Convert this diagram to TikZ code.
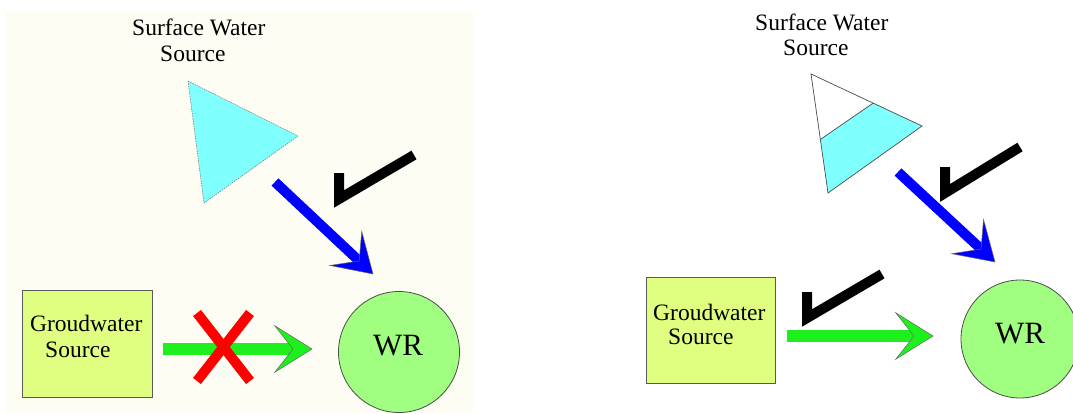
\documentclass[tikz,border=0pt]{standalone}
\usepackage{fontspec}
\setmainfont{Liberation Serif}
\newfontfamily\serifface{Liberation Serif}
\usetikzlibrary{calc}
\definecolor{cream}{RGB}{254,253,244}
\definecolor{watercyan}{RGB}{128,255,255}
\definecolor{flowblue}{RGB}{0,0,255}
\definecolor{flowgreen}{RGB}{30,240,30}
\definecolor{boxlime}{RGB}{224,255,128}
\definecolor{wrgreen}{RGB}{160,255,128}
\definecolor{crossred}{RGB}{255,0,0}
\tikzset{
  lbl/.style={font=\serifface\fontsize{23.5}{26}\selectfont, inner sep=0pt, anchor=base west},
  wrlbl/.style={font=\serifface\fontsize{31}{34}\selectfont, inner sep=0pt, anchor=base},
  gwbox/.style={draw=gray!70!black, line width=0.8pt, fill=boxlime, inner sep=0pt, anchor=north west},
  wrnode/.style={circle, draw=gray!60!black, line width=0.8pt, fill=wrgreen, inner sep=0pt},
  checkmark/.style={line width=10pt, line join=miter, black},
  crossline/.style={line width=10pt, crossred},
  tridash/.style={draw=gray, line width=0.6pt, dash pattern=on 1.5pt off 1pt},
  trisolid/.style={draw=gray!60!black, line width=0.7pt},
  headline/.style={draw=black!60, line width=0.5pt}
}
\newcommand{\flowarrow}[4]{%
  \draw[#1, line width=#2] (#3) -- ($(#4)!17pt!(#3)$);
  \fill[#1, headline] (#4) -- ($(#4)!44pt!32:(#3)$) -- ($(#4)!19pt!(#3)$) -- ($(#4)!44pt!-32:(#3)$) -- cycle;
}
\begin{document}
\begin{tikzpicture}[x=1pt,y=-1pt]
\clip (0,0) rectangle (1073,413);
\fill[white] (0,0) rectangle (1073,413);
\fill[cream] (6,12) rectangle (473,413);

% ---------- left panel ----------
\node[lbl] (swL1) at (132,35) {Surface Water};
\node[lbl] (swL2) at (160,61) {Source};
\coordinate (tL1) at (188,81);
\coordinate (tL2) at (298,136);
\coordinate (tL3) at (204,203);
\fill[watercyan] (tL1) -- (tL2) -- (tL3) -- cycle;
\draw[tridash] (tL1) -- (tL2) -- (tL3) -- cycle;

\node[gwbox, minimum width=130pt, minimum height=107pt] (gwL) at (22,290) {};
\node[lbl] (gwL1) at (30,331) {Groudwater};
\node[lbl] (gwL2) at (45,357) {Source};

\node[wrnode, minimum size=121pt] (wrL) at (399,352) {};
\node[wrlbl] (wrLt) at (398,355) {WR};

\coordinate (bL0) at (275,182);
\coordinate (bL1) at (373,274);
\flowarrow{flowblue}{10pt}{bL0}{bL1}

\coordinate (gL0) at (163,349);
\coordinate (gL1) at (312,349);
\flowarrow{flowgreen}{12pt}{gL0}{gL1}

\coordinate (xL1) at (197,313);
\coordinate (xL2) at (250,381);
\coordinate (xL3) at (250,313);
\coordinate (xL4) at (197,381);
\draw[crossline] (xL1) -- (xL2);
\draw[crossline] (xL3) -- (xL4);

\coordinate (cL1) at (339,173);
\coordinate (cL2) at (339,199);
\coordinate (cL3) at (414,155);
\draw[checkmark] (cL1) -- (cL2) -- (cL3);

% ---------- right panel ----------
\node[lbl] (swR1) at (755,30) {Surface Water};
\node[lbl] (swR2) at (783,55) {Source};
\coordinate (tR1) at (811,74);
\coordinate (tR2) at (922,126);
\coordinate (tR3) at (828,193);
\coordinate (wR1) at ($(tR1)!0.55!(tR3)$);
\coordinate (wR2) at ($(tR1)!0.56!(tR2)$);
\fill[watercyan] (wR1) -- (wR2) -- (tR2) -- (tR3) -- cycle;
\draw[trisolid] (tR1) -- (tR2) -- (tR3) -- cycle;
\draw[trisolid] (wR1) -- (wR2);

\node[gwbox, minimum width=129pt, minimum height=106pt] (gwR) at (646,277) {};
\node[lbl] (gwR1) at (653,320) {Groudwater};
\node[lbl] (gwR2) at (668,344) {Source};

\node[wrnode, minimum size=118pt] (wrR) at (1020,339) {};
\node[wrlbl] (wrRt) at (1020,343) {WR};

\coordinate (bR0) at (898,172);
\coordinate (bR1) at (995,262);
\flowarrow{flowblue}{10pt}{bR0}{bR1}

\coordinate (gR0) at (787,336);
\coordinate (gR1) at (933,336);
\flowarrow{flowgreen}{12pt}{gR0}{gR1}

\coordinate (cR1) at (945,167);
\coordinate (cR2) at (945,193);
\coordinate (cR3) at (1020,147);
\draw[checkmark] (cR1) -- (cR2) -- (cR3);

\coordinate (cS1) at (807,292);
\coordinate (cS2) at (807,318);
\coordinate (cS3) at (882,274);
\draw[checkmark] (cS1) -- (cS2) -- (cS3);
\end{tikzpicture}
\end{document}
